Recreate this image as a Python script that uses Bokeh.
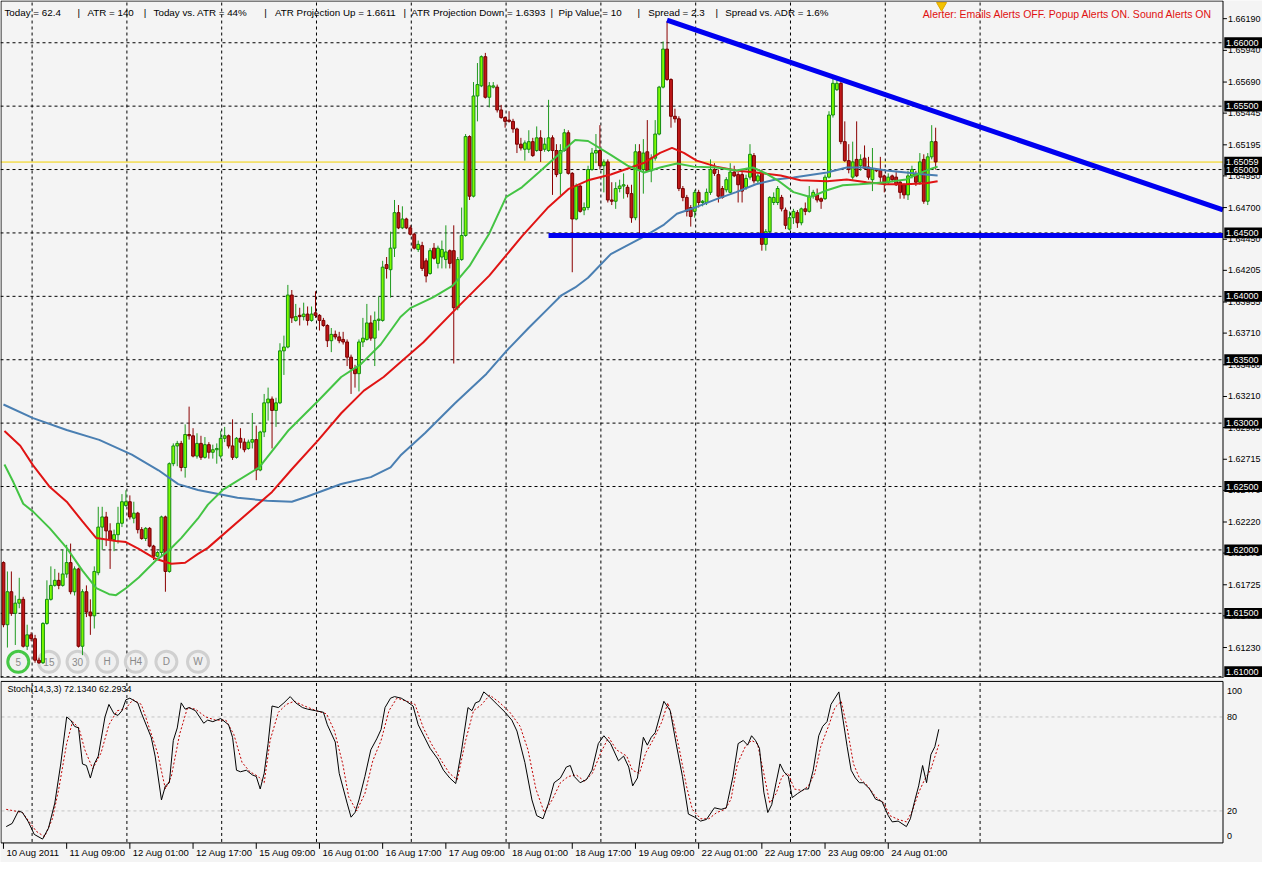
from bokeh.plotting import figure
from bokeh.layouts import column
from bokeh.models import Range1d, ColumnDataSource
from bokeh.core.properties import value
from bokeh.embed import file_html
from bokeh.resources import INLINE

# ---------------- data (H1 candles) ----------------
opens = [
1.6190,1.6141,1.6167,1.6150,1.6158,1.6161,1.6124,1.6133,1.6130,1.6113,
1.6111,1.6142,1.6161,1.6172,1.6176,1.6172,1.6181,1.6190,1.6167,1.6185,
1.6124,1.6167,1.6151,1.6148,1.6182,1.6218,1.6226,1.6215,1.6208,1.6212,
1.6221,1.6235,1.6238,1.6225,1.6229,1.6216,1.6209,1.6217,1.6203,1.6195,
1.6198,1.6226,1.6183,1.6268,1.6282,1.6284,1.6265,1.6291,1.6290,1.6274,
1.6284,1.6273,1.6283,1.6277,1.6279,1.6274,1.6288,1.6290,1.6282,1.6273,
1.6288,1.6285,1.6280,1.6285,1.6287,1.6263,1.6293,1.6316,1.6319,1.6310,
1.6316,1.6357,1.6360,1.6401,1.6381,1.6385,1.6384,1.6386,1.6381,1.6387,
1.6385,1.6381,1.6377,1.6365,1.6370,1.6368,1.6366,1.6364,1.6352,1.6343,
1.6339,1.6364,1.6366,1.6379,1.6367,1.6381,1.6381,1.6425,1.6421,1.6438,
1.6466,1.6454,1.6461,1.6454,1.6449,1.6437,1.6440,1.6428,1.6418,1.6438,
1.6426,1.6431,1.6429,1.6436,1.6436,1.6391,1.6429,1.6448,1.6526,1.6479,
1.6558,1.6566,1.6589,1.6557,1.6565,1.6565,1.6547,1.6541,1.6539,1.6538,
1.6532,1.6520,1.6516,1.6516,1.6522,1.6515,1.6525,1.6516,1.6515,1.6525,
1.6515,1.6497,1.6515,1.6529,1.6497,1.6461,1.6487,1.6468,1.6470,1.6500,
1.6513,1.6515,1.6503,1.6506,1.6476,1.6475,1.6485,1.6487,1.6486,1.6481,
1.6462,1.6514,1.6500,1.6514,1.6499,1.6509,1.6528,1.6565,1.6595,1.6571,
1.6542,1.6540,1.6485,1.6478,1.6470,1.6467,1.6482,1.6474,1.6474,1.6482,
1.6500,1.6496,1.6485,1.6484,1.6482,1.6498,1.6496,1.6496,1.6486,1.6494,
1.6511,1.6491,1.6497,1.6441,1.6451,1.6474,1.6474,1.6478,1.6468,1.6453,
1.6462,1.6466,1.6458,1.6469,1.6467,1.6479,1.6480,1.6477,1.6477,1.6494,
1.6543,1.6563,1.6568,1.6522,1.6507,1.6494,1.6508,1.6503,1.6509,1.6502,
1.6492,1.6500,1.6500,1.6495,1.6490,1.6495,1.6494,1.6490,1.6488,1.6480,
1.6495,1.6496,1.6490,1.6508,1.6475,1.6510,1.6522]

highs = [
1.6191,1.6183,1.6183,1.6164,1.6178,1.6163,1.6141,1.6135,1.6133,1.6115,
1.6143,1.6176,1.6187,1.6185,1.6182,1.6200,1.6204,1.6205,1.6187,1.6186,
1.6169,1.6172,1.6161,1.6187,1.6234,1.6234,1.6230,1.6221,1.6216,1.6234,
1.6244,1.6247,1.6243,1.6238,1.6230,1.6218,1.6218,1.6218,1.6204,1.6199,
1.6227,1.6227,1.6269,1.6284,1.6286,1.6286,1.6299,1.6313,1.6296,1.6292,
1.6290,1.6289,1.6285,1.6283,1.6284,1.6294,1.6297,1.6291,1.6303,1.6289,
1.6296,1.6288,1.6287,1.6308,1.6298,1.6294,1.6323,1.6328,1.6321,1.6320,
1.6363,1.6369,1.6409,1.6405,1.6394,1.6391,1.6395,1.6392,1.6392,1.6404,
1.6386,1.6383,1.6378,1.6375,1.6373,1.6372,1.6372,1.6366,1.6354,1.6346,
1.6366,1.6383,1.6394,1.6385,1.6388,1.6400,1.6428,1.6431,1.6451,1.6476,
1.6472,1.6471,1.6462,1.6456,1.6450,1.6444,1.6443,1.6430,1.6438,1.6442,
1.6440,1.6444,1.6456,1.6437,1.6456,1.6431,1.6470,1.6528,1.6527,1.6569,
1.6584,1.6590,1.6592,1.6569,1.6569,1.6567,1.6551,1.6542,1.6546,1.6540,
1.6533,1.6525,1.6523,1.6531,1.6525,1.6534,1.6531,1.6525,1.6555,1.6527,
1.6520,1.6520,1.6532,1.6531,1.6498,1.6489,1.6488,1.6474,1.6503,1.6517,
1.6528,1.6535,1.6508,1.6508,1.6490,1.6490,1.6492,1.6497,1.6488,1.6488,
1.6520,1.6520,1.6524,1.6539,1.6512,1.6539,1.6566,1.6601,1.6617,1.6572,
1.6548,1.6542,1.6487,1.6480,1.6472,1.6484,1.6484,1.6476,1.6485,1.6508,
1.6505,1.6500,1.6487,1.6494,1.6505,1.6503,1.6498,1.6498,1.6496,1.6520,
1.6513,1.6497,1.6500,1.6453,1.6479,1.6482,1.6487,1.6480,1.6470,1.6467,
1.6469,1.6468,1.6470,1.6474,1.6487,1.6484,1.6485,1.6478,1.6496,1.6546,
1.6572,1.6572,1.6569,1.6538,1.6520,1.6522,1.6538,1.6512,1.6519,1.6510,
1.6517,1.6501,1.6510,1.6496,1.6497,1.6496,1.6499,1.6491,1.6489,1.6499,
1.6503,1.6499,1.6513,1.6512,1.6513,1.6535,1.6533]

lows = [
1.6139,1.6123,1.6148,1.6125,1.6154,1.6123,1.6121,1.6128,1.6111,1.6110,
1.6110,1.6141,1.6160,1.6171,1.6169,1.6171,1.6178,1.6165,1.6164,1.6123,
1.6117,1.6147,1.6133,1.6138,1.6180,1.6200,1.6203,1.6185,1.6199,1.6205,
1.6218,1.6234,1.6224,1.6221,1.6213,1.6208,1.6207,1.6202,1.6192,1.6194,
1.6195,1.6167,1.6182,1.6266,1.6266,1.6262,1.6257,1.6287,1.6273,1.6272,
1.6271,1.6272,1.6272,1.6272,1.6268,1.6272,1.6285,1.6280,1.6271,1.6272,
1.6280,1.6277,1.6279,1.6280,1.6255,1.6262,1.6289,1.6302,1.6280,1.6297,
1.6315,1.6338,1.6359,1.6379,1.6380,1.6377,1.6381,1.6377,1.6380,1.6383,
1.6373,1.6376,1.6360,1.6356,1.6366,1.6363,1.6362,1.6345,1.6323,1.6328,
1.6325,1.6360,1.6365,1.6365,1.6345,1.6373,1.6380,1.6414,1.6399,1.6431,
1.6453,1.6453,1.6453,1.6448,1.6437,1.6435,1.6420,1.6411,1.6417,1.6429,
1.6422,1.6422,1.6422,1.6422,1.6347,1.6389,1.6428,1.6447,1.6476,1.6478,
1.6538,1.6565,1.6556,1.6549,1.6564,1.6545,1.6540,1.6533,1.6537,1.6529,
1.6513,1.6515,1.6507,1.6513,1.6510,1.6514,1.6506,1.6514,1.6514,1.6480,
1.6494,1.6480,1.6514,1.6496,1.6419,1.6460,1.6466,1.6464,1.6468,1.6499,
1.6505,1.6500,1.6482,1.6474,1.6472,1.6469,1.6482,1.6477,1.6478,1.6458,
1.6460,1.6445,1.6481,1.6498,1.6490,1.6507,1.6527,1.6564,1.6570,1.6533,
1.6537,1.6483,1.6475,1.6463,1.6455,1.6462,1.6470,1.6471,1.6472,1.6480,
1.6495,1.6474,1.6477,1.6482,1.6481,1.6494,1.6474,1.6474,1.6484,1.6492,
1.6489,1.6489,1.6436,1.6436,1.6449,1.6472,1.6472,1.6467,1.6453,1.6452,
1.6457,1.6454,1.6456,1.6464,1.6466,1.6477,1.6474,1.6469,1.6476,1.6493,
1.6541,1.6562,1.6520,1.6506,1.6497,1.6492,1.6494,1.6499,1.6500,1.6492,
1.6483,1.6498,1.6490,1.6482,1.6488,1.6490,1.6487,1.6477,1.6477,1.6476,
1.6493,1.6487,1.6488,1.6473,1.6472,1.6508,1.6500]

closes = [
1.6141,1.6167,1.6150,1.6158,1.6161,1.6124,1.6133,1.6130,1.6113,1.6111,
1.6142,1.6161,1.6172,1.6176,1.6172,1.6181,1.6190,1.6167,1.6185,1.6124,
1.6167,1.6151,1.6148,1.6183,1.6218,1.6226,1.6215,1.6208,1.6212,1.6221,
1.6238,1.6238,1.6226,1.6229,1.6216,1.6209,1.6217,1.6203,1.6195,1.6198,
1.6226,1.6183,1.6268,1.6282,1.6284,1.6265,1.6291,1.6290,1.6274,1.6284,
1.6273,1.6283,1.6277,1.6279,1.6280,1.6288,1.6290,1.6282,1.6273,1.6288,
1.6285,1.6279,1.6285,1.6287,1.6263,1.6293,1.6316,1.6319,1.6310,1.6316,
1.6357,1.6360,1.6401,1.6383,1.6384,1.6384,1.6386,1.6381,1.6386,1.6385,
1.6381,1.6377,1.6365,1.6370,1.6368,1.6365,1.6364,1.6352,1.6343,1.6339,
1.6364,1.6367,1.6379,1.6367,1.6381,1.6382,1.6423,1.6422,1.6438,1.6466,
1.6454,1.6461,1.6454,1.6449,1.6438,1.6441,1.6422,1.6416,1.6436,1.6430,
1.6438,1.6437,1.6435,1.6426,1.6391,1.6429,1.6448,1.6526,1.6479,1.6558,
1.6567,1.6589,1.6557,1.6566,1.6566,1.6547,1.6541,1.6538,1.6538,1.6532,
1.6520,1.6517,1.6521,1.6522,1.6511,1.6525,1.6515,1.6520,1.6525,1.6515,
1.6496,1.6515,1.6529,1.6497,1.6461,1.6487,1.6467,1.6470,1.6500,1.6513,
1.6515,1.6503,1.6506,1.6476,1.6475,1.6485,1.6487,1.6488,1.6481,1.6462,
1.6514,1.6500,1.6513,1.6499,1.6509,1.6528,1.6565,1.6595,1.6571,1.6542,
1.6540,1.6485,1.6478,1.6467,1.6463,1.6482,1.6474,1.6475,1.6482,1.6500,
1.6497,1.6479,1.6478,1.6492,1.6498,1.6495,1.6488,1.6483,1.6493,1.6512,
1.6491,1.6495,1.6441,1.6451,1.6478,1.6478,1.6485,1.6469,1.6456,1.6462,
1.6467,1.6458,1.6469,1.6467,1.6479,1.6482,1.6476,1.6475,1.6494,1.6543,
1.6568,1.6568,1.6522,1.6507,1.6500,1.6506,1.6495,1.6508,1.6501,1.6494,
1.6500,1.6499,1.6494,1.6490,1.6494,1.6492,1.6488,1.6482,1.6480,1.6495,
1.6500,1.6490,1.6506,1.6475,1.6510,1.6522,1.6506]

# moving averages (bar position, price)
ma_slow_x = [0, 7.5, 16, 24.25, 32.5, 39.25, 44.25, 49.25, 59.25, 66.75, 73, 76.75, 85.5, 93, 98,
             100.5, 106.75, 114.25, 122.25, 127.25, 133, 138, 141.25, 144.75, 148, 153.75, 162.25,
             167.25, 170.5, 175.5, 180.5, 185.5, 190.5, 195.5, 200, 208.5, 213.5, 218.5, 223.5,
             228.5, 233.5, 236.5]
ma_slow = [1.63147, 1.63039, 1.62946, 1.62868, 1.62752, 1.62628, 1.62519, 1.62473, 1.62411, 1.62388,
           1.62380, 1.62419, 1.62520, 1.62574, 1.62651, 1.62744, 1.62922, 1.63155, 1.63388, 1.63566,
           1.63752, 1.63907, 1.64008, 1.64070, 1.64147, 1.64333, 1.64473, 1.64566, 1.64651, 1.64705,
           1.64767, 1.64822, 1.64884, 1.64922, 1.64938, 1.64977, 1.65016, 1.65016, 1.64992, 1.64977,
           1.64961, 1.64953]

ma_mid_x = [0.25, 4.25, 7.5, 11.75, 16, 20, 23.5, 28.5, 31, 34.25, 38.5, 42.5, 46, 49.25, 51.75,
            68, 73, 79.75, 85.5, 91.25, 96.25, 100.5, 106.25, 114.75, 123, 131.25, 138, 143, 148,
            153.75, 162.25, 166.25, 169.25, 172.25, 175.5, 180.5, 185.5, 190.5, 196.75, 201.75,
            208.5, 213.5, 218.5, 223.5, 228.5, 233.5, 236.5]
ma_mid = [1.62938, 1.62822, 1.62667, 1.62496, 1.62380, 1.62225, 1.62093, 1.62070, 1.62062, 1.62008,
          1.61930, 1.61891, 1.61899, 1.61969, 1.62016, 1.62457, 1.62636, 1.62868, 1.63078, 1.63256,
          1.63364, 1.63481, 1.63636, 1.63907, 1.64163, 1.64473, 1.64705, 1.64845, 1.64915, 1.64961,
          1.65054, 1.65132, 1.65171, 1.65132, 1.65070, 1.65023, 1.64992, 1.64977, 1.64953, 1.64915,
          1.64907, 1.64922, 1.64899, 1.64884, 1.64884, 1.64891, 1.64907]

ma_fast_x = [0.25, 2.5, 5, 7.5, 11.75, 16, 20, 23.5, 26.75, 28.5, 31, 34.25, 38.5, 41.75, 45,
             49.25, 51.75, 55.5, 64.75, 72.25, 79.75, 85.5, 90.5, 95.5, 100.5, 103, 108.75, 113.75,
             118, 123, 127.25, 131.25, 135.5, 140.5, 144.75, 148, 153.75, 158, 162.25, 166.25,
             170.5, 174.75, 180.5, 185.5, 189.75, 193, 196, 200, 204.25, 208.5, 212.5, 216.75,
             223.5, 228.5, 233.5, 236.5]
ma_fast = [1.62674, 1.62535, 1.62364, 1.62302, 1.62170, 1.62016, 1.61837, 1.61698, 1.61651, 1.61643,
           1.61698, 1.61783, 1.61915, 1.61992, 1.62093, 1.62248, 1.62357, 1.62473, 1.62651, 1.62946,
           1.63178, 1.63364, 1.63465, 1.63620, 1.63837, 1.63907, 1.63992, 1.64085, 1.64240, 1.64496,
           1.64783, 1.64860, 1.64977, 1.65116, 1.65233, 1.65225, 1.65116, 1.65031, 1.64977, 1.65016,
           1.65047, 1.65023, 1.65016, 1.64992, 1.65016, 1.64969, 1.64915, 1.64822, 1.64783, 1.64837,
           1.64876, 1.64884, 1.64899, 1.64922, 1.64992, 1.65023]

# drawn objects
trend_x = [168, 308.75]
trend_y = [1.66178, 1.64682]
support_x = [138, 308.75]
support_y = [1.6448, 1.6448]
bid_price = 1.65059
level_prices = [1.66, 1.655, 1.65, 1.645, 1.64, 1.635, 1.63, 1.625, 1.62, 1.615, 1.61]

# price axis ticks
price_ticks = [1.61230, 1.61480, 1.61725, 1.61975, 1.62220, 1.62470, 1.62715, 1.62965,
               1.63210, 1.63460, 1.63710, 1.63955, 1.64205, 1.64450, 1.64700, 1.64950, 1.65195,
               1.65445, 1.65690, 1.65940, 1.66190]

# time axis
time_ticks = [0, 16, 32, 48, 64, 80, 96, 112, 128, 144, 160, 176, 192, 208, 224]
time_labels = ["10 Aug 2011", "11 Aug 09:00", "12 Aug 01:00", "12 Aug 17:00", "15 Aug 09:00",
               "16 Aug 01:00", "16 Aug 17:00", "17 Aug 09:00", "18 Aug 01:00", "18 Aug 17:00",
               "19 Aug 09:00", "22 Aug 01:00", "22 Aug 17:00", "23 Aug 09:00", "24 Aug 01:00"]

# stochastic (14,3,3)
stoch_k_x = [0.7,2.2,3.8,4.8,6.3,7.8,9.9,11.4,13,14.5,16,17,18,19,20,21,22,23,24,25.7,
             26.7,28,29,30,31,32,34,35,37.4,38.4,40,41,42,43,44,45,46,47,48.6,50.7,
             51.7,53,55,57,58,59,60,61.5,63,64,65,66,67,68,69.6,71,72.6,74,75.7,77,
             79,81,82,84,85,87,88,89,90,91.5,93,94.5,95.6,96.6,98,99,100.7,102,103.7,105,
             106.8,108,110,111.4,113,114.5,116,117.6,118.6,119.5,120.5,121.6,123,125,127,128.7,130,132,133.8,135,
             136.6,138,139.4,141,142.5,143.5,144.5,146,147.6,149,150.6,152,153.7,155.7,157,158.3,159.3,160.5,162,163,
             164,165,167.2,168.8,170.3,171.9,173.4,175,176.5,178,180,181.7,183,184.7,186,187.3,188.4,189.4,190.4,191.4,
             192.5,193.5,194.5,195.6,196.6,197.6,198.7,199.7,201,202.8,203.8,205,206.4,207.4,208.5,209.5,210.5,211.5,212.6,213.6,
             214.6,215.7,216.7,217.7,219.3,220.8,222.4,224,225,226.5,228.6,229.6,230.6,231.7,232.7,233.7,234.8,235.8,236.8]
stoch_k = [10,12,20,19,13,5,2,9,25,50,80,78,74,73,50,49,41,50,55,80,
           88,82,81,84,91,92,89,82,67,55,27,36,38,65,73,89,85,86,84,76,
           78,77,79,75,67,46,45,46,43,42,34,44,63,87,86,89,93,89,86,85,
           84,83,75,64,44,25,16,19,27,42,59,66,72,86,92,93,92,90,87,75,
           66,60,53,46,41,37.5,59,86,84,89,90,96,93,88,83,78,71,51,27,17,
           15,25,38,41,48,49,42,38,40,46,63,68,63,52,55,48,36,41,67,62,
           67,70,90,84,63,42,18,16,13.5,14.6,22,21,22,42,63,65,62,68,65,60,
           32,19,24,38,50,45,42,28.5,31,34,34,46,68,74,77,88,92,96,77.5,61,
           46,41,38,38,34,27.5,26,17,13,13.5,10,15,25.4,36,49,38,56,61,72.13]
stoch_d_x = [0.7,4.8,8.3,10.4,12.4,14,16,17.5,19.1,20.6,22.6,24.7,26.7,28.8,30.8,32.8,34.9,36.4,39,41,
             42.5,44.6,46.6,48.6,51.2,53.7,56.3,58.3,60.4,62.4,64.5,66,67.5,69.6,71.6,73.6,76.2,79.2,81.8,83.8,
             85.9,87.4,89.4,91.5,93.5,95.6,97.6,99.6,102.2,104.2,106.3,108.3,110.9,112.9,114.9,117,119,121.1,123.1,125.7,
             128.2,130.8,132.8,134.8,136.9,138.9,141,143,145,147.1,149.1,151.2,153.2,155.2,157.8,159.2,161,162.6,164.6,166.7,
             168.2,169.8,171.3,172.9,174.4,176.5,178.6,180.6,182.7,184.2,185.8,187.8,189.4,190.9,192.5,194,195.6,197.1,198.7,200.2,
             202.3,203.8,205.4,206.9,209,210.5,212.1,213.6,215.2,216.7,218.8,220.8,222.9,224.4,226.5,228.6,230.1,231.7,233.2,234.7,
             236.8]
stoch_d = [21,19,7,3.5,15,34,63,77,73,59,47,57,75,84,85,91,88,77,57,34,
           42,69,86,85,80,78,78,69,51,45,42,38,65,83,88,90,87,84,82,71,
           50,29,20,31,52,65,84,92,90,88,73,63,52,44,40,65,84,88,94,89,
           83,74,59,34,19,27,38,42,43,39,44,57,67,59,55,46,44,57,66,77,
           89,75,57,36,21,15,15,19,21,27.5,50,61,65,63,44,25,31,42,44,34,
           33,36,44,61,75,86,90,73,50,41,36,29,25,17,14.6,13,20,31.7,40,46,
           62.29]
stoch_levels = [80, 20]
stoch_axis_labels = ["100", "80", "20", "0"]

info_texts = ["Today = 62.4", "|", "ATR = 140", "|", "Today vs. ATR = 44%", "|",
              "ATR Projection Up = 1.6611", "|", "ATR Projection Down = 1.6393", "|",
              "Pip Value = 10", "|", "Spread = 2.3", "|", "Spread vs. ADR = 1.6%"]
alert_text = "Alerter: Emails Alerts OFF. Popup Alerts ON. Sound Alerts ON"
stoch_title = "Stoch(14,3,3) 72.1340 62.2934"
tf_buttons = ["5", "15", "30", "H", "H4", "D", "W"]

# ---------------- layout helpers (reference pixel -> data) ----------------
BG = "#f4f4f4"
FONT = "Liberation Sans"
W = 1262


def bx(px):
    return (px - 3) / 4.0


def py(px):
    return 1.66 - (px - 43) * 0.0000775


def sy(px):
    return 80.0 - (px - 729.3) / 1.6


X_AXIS = 1238          # reference x of the price-axis line
xr = Range1d(bx(0), bx(1278))
grid_x = [bx(32 + 96 * k) for k in range(11)]


def make_fig(height, y0, y1):
    f = figure(width=W, height=height, x_range=xr, y_range=Range1d(y0, y1),
               output_backend="svg", toolbar_location=None,
               x_axis_location=None, y_axis_location=None,
               min_border_left=0, min_border_right=0, min_border_top=0, min_border_bottom=0,
               background_fill_color=BG, border_fill_color=BG, outline_line_color=None)
    f.xgrid.visible = False
    f.ygrid.visible = False
    return f


# ---------------- main price panel ----------------
p = make_fig(678, py(690), py(0))

# grid
p.segment(x0=[bx(0)] * len(level_prices), y0=level_prices,
          x1=[bx(X_AXIS)] * len(level_prices), y1=level_prices,
          line_color="black", line_dash="3 3", line_width=1)
p.segment(x0=grid_x, y0=[py(689)] * len(grid_x), x1=grid_x, y1=[py(1)] * len(grid_x),
          line_color="black", line_dash="3 3", line_width=1)

# timeframe buttons
btn_px = [18, 49, 78, 108, 137, 168, 200]
btn_x = [bx(v) for v in btn_px]
btn_y = [py(673)] * len(btn_px)
btn_lines = ["#46c846"] + ["#d0d0d0"] * (len(btn_px) - 1)
p.scatter(btn_x, btn_y, marker="circle", size=21, fill_color="#f0f0f0",
          line_color=btn_lines, line_width=3)
p.text(btn_x, btn_y, text=tf_buttons, text_font=value(FONT), text_font_size="10px",
       text_color="#8a8a8a", text_align="center", text_baseline="middle")

# bid line
p.segment(x0=[bx(0)], y0=[bid_price], x1=[bx(X_AXIS)], y1=[bid_price],
          line_color="#f2d000", line_width=1)

# candles
n = len(closes)
bars = list(range(n))
up = [c >= o for o, c in zip(opens, closes)]
src = ColumnDataSource(dict(
    x=bars, h=highs, l=lows,
    top=[max(o, c) for o, c in zip(opens, closes)],
    bottom=[min(o, c) for o, c in zip(opens, closes)],
    wick=["#1f9a1f" if u else "#8a0000" for u in up],
    fill=["#7cfc00" if u else "#c01818" for u in up],
    edge=["#138a13" if u else "#780000" for u in up],
))
p.segment(x0="x", y0="h", x1="x", y1="l", line_color="wick", line_width=1, source=src)
p.vbar(x="x", width=0.72, top="top", bottom="bottom", fill_color="fill",
       line_color="edge", line_width=1, source=src)

# moving averages
p.line(ma_slow_x, ma_slow, line_color="#4a7fb2", line_width=2)
p.line(ma_mid_x, ma_mid, line_color="#e01414", line_width=2)
p.line(ma_fast_x, ma_fast, line_color="#44c444", line_width=2)

# trend lines
p.line(trend_x, trend_y, line_color="#0000f0", line_width=5)
p.line(support_x, support_y, line_color="#0000f0", line_width=5)

# small marker at the top
p.scatter([bx(953)], [py(5)], marker="inverted_triangle", size=10,
          fill_color="#f2c200", line_color="#e0a800")

# info texts
info_px = [4, 78, 88, 145, 155, 267, 278, 408, 416, 557, 565, 645, 656, 724, 734]
p.text([bx(v) for v in info_px], [py(12)] * len(info_px), text=info_texts,
       text_font=value(FONT), text_font_size="9.8px", text_color="black",
       text_align="left", text_baseline="middle")
p.text([bx(934)], [py(14)], text=[alert_text], text_font=value(FONT),
       text_font_size="10.5px", text_color="#e01010", text_align="left",
       text_baseline="middle")

# panel border + price axis
p.segment(x0=[bx(0.5), bx(0.5), bx(0.5), bx(X_AXIS)],
          y0=[py(0.5), py(689.5), py(0.5), py(0.5)],
          x1=[bx(X_AXIS), bx(X_AXIS), bx(0.5), bx(X_AXIS)],
          y1=[py(0.5), py(689.5), py(689.5), py(689.5)],
          line_color="black", line_width=1)
p.segment(x0=[bx(X_AXIS)] * len(price_ticks), y0=price_ticks,
          x1=[bx(X_AXIS + 4)] * len(price_ticks), y1=price_ticks,
          line_color="black", line_width=1)
p.text([bx(1243)] * len(price_ticks), price_ticks, text=["%.5f" % t for t in price_ticks],
       text_font=value(FONT), text_font_size="9px", text_color="black",
       text_align="left", text_baseline="middle")

# black level boxes on the price axis (kept inside the panel like the terminal does)
box_levels = level_prices + [bid_price]
box_y = [min(max(v, py(683)), py(7)) for v in box_levels]
p.rect([bx(1258.5)] * len(box_levels), box_y, width=9.6, height=11 * 0.0000775,
       fill_color="black", line_color=None)
p.text([bx(1241)] * len(box_levels), box_y, text=["%.5f" % v for v in box_levels],
       text_font=value(FONT), text_font_size="9px", text_color="white",
       text_align="left", text_baseline="middle")

# ---------------- stochastic panel ----------------
p2 = make_fig(184, sy(878), sy(690))

p2.segment(x0=grid_x, y0=[sy(857)] * len(grid_x), x1=grid_x, y1=[sy(694)] * len(grid_x),
           line_color="black", line_dash="3 3", line_width=1)
p2.segment(x0=[bx(1)] * 2, y0=stoch_levels, x1=[bx(X_AXIS)] * 2, y1=stoch_levels,
           line_color="#c4c4c4", line_dash="3 3", line_width=1)

p2.line(stoch_d_x, stoch_d, line_color="#c00000", line_dash="2 2", line_width=1)
p2.line(stoch_k_x, stoch_k, line_color="black", line_width=1)

p2.text([bx(7)], [sy(696)], text=[stoch_title], text_font=value(FONT),
        text_font_size="9px", text_color="black", text_align="left", text_baseline="top")

# border of stochastic window
p2.segment(x0=[bx(0.5), bx(0.5), bx(0.5), bx(X_AXIS)],
           y0=[sy(693), sy(858), sy(693), sy(693)],
           x1=[bx(X_AXIS), bx(X_AXIS), bx(0.5), bx(X_AXIS)],
           y1=[sy(693), sy(858), sy(858), sy(858)],
           line_color="black", line_width=1)

# stochastic scale labels
p2.text([bx(1242)] * 4, [sy(703), 80, 20, sy(851)], text=stoch_axis_labels,
        text_font=value(FONT), text_font_size="9px", text_color="black",
        text_align="left", text_baseline="middle")

# time axis
p2.segment(x0=time_ticks, y0=[sy(858)] * len(time_ticks), x1=time_ticks,
           y1=[sy(864)] * len(time_ticks), line_color="black", line_width=1)
p2.text([t + 0.75 for t in time_ticks], [sy(868)] * len(time_ticks), text=time_labels,
        text_font=value(FONT), text_font_size="9.5px", text_color="black",
        text_align="left", text_baseline="middle")

layout = column(p, p2, spacing=0)
open("out.html", "w").write(file_html(layout, INLINE, title="GBPUSD H1"))
